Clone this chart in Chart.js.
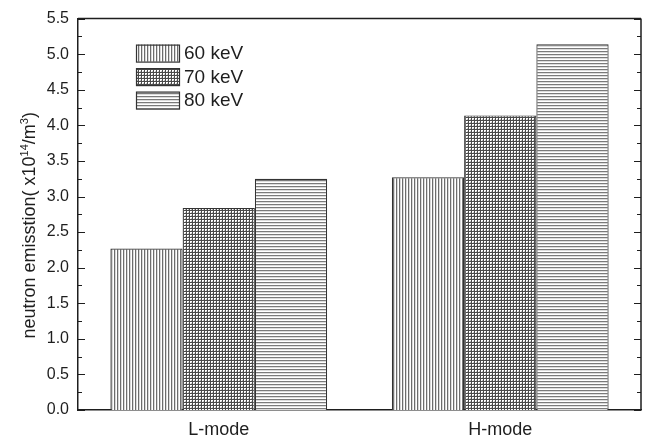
<!DOCTYPE html>
<html>
<head>
<meta charset="utf-8">
<script src="https://cdn.jsdelivr.net/npm/chart.js@4.4.1/dist/chart.umd.min.js"></script>
<style>
  html, body { margin: 0; padding: 0; background: #ffffff; }
  #wrap { width: 648px; height: 440px; }
</style>
</head>
<body>
<div id="wrap"><canvas id="c" width="648" height="440"></canvas></div>
<script>
// Plasma confinement modes on the x axis
const modes = ['L-mode', 'H-mode'];
// Beam energies (one series each)
const beamEnergies = ['60 keV', '70 keV', '80 keV'];
// Neutron emission, units of 10^14 per m^3
const emission60 = [2.27, 3.27];
const emission70 = [2.84, 4.14];
const emission80 = [3.25, 5.14];
// Y axis range and label step
const yMin = 0;
const yMax = 5.5;
const yStep = 0.5;

const FONT = '"Liberation Sans", Arial, Helvetica, sans-serif';
const INK = '#1e1e1e';

// Monochrome hatch fills
function makePattern(size, paint) {
  const c = document.createElement('canvas');
  c.width = size; c.height = size;
  const g = c.getContext('2d');
  g.fillStyle = '#ffffff';
  g.fillRect(0, 0, size, size);
  paint(g, size);
  return g.createPattern(c, 'repeat');
}
const ctx = document.getElementById('c').getContext('2d');
const vertical = makePattern(3, (g, s) => {
  g.fillStyle = '#6c6c6c'; g.fillRect(0, 0, 1, s);
  g.fillStyle = '#d8d8d8'; g.fillRect(1, 0, 1, s);
});
const crossHatch = makePattern(3, (g, s) => {
  g.fillStyle = '#4a4a4a';
  g.fillRect(0, 0, s, 1);
  g.fillRect(0, 0, 1, s);
  g.fillStyle = '#bdbdbd';
  g.fillRect(2, 2, 1, 1);
});
const horizontal = makePattern(3, (g, s) => {
  g.fillStyle = '#7a7a7a'; g.fillRect(0, 0, s, 1);
  g.fillStyle = '#dcdcdc'; g.fillRect(0, 1, s, 1);
});
const fills = [vertical, crossHatch, horizontal];
const seriesValues = [emission60, emission70, emission80];

// Frame, inward ticks, legend and rotated axis title
const decorations = {
  id: 'decorations',
  afterDraw(chart) {
    const { ctx, chartArea: a, scales } = chart;
    const y = scales.y;
    ctx.save();
    ctx.strokeStyle = INK;
    ctx.lineWidth = 1.5;
    ctx.beginPath();
    ctx.moveTo(a.left, a.top); ctx.lineTo(a.right, a.top);
    ctx.moveTo(a.right, a.top); ctx.lineTo(a.right, a.bottom);
    ctx.stroke();

    ctx.lineWidth = 1.2;
    ctx.beginPath();
    const n = Math.round((yMax - yMin) / (yStep / 2));
    for (let i = 0; i <= n; i++) {
      const v = yMin + i * yStep / 2;
      const py = Math.round(y.getPixelForValue(v)) + 0.5;
      const len = (i % 2 === 0) ? 7 : 4;
      ctx.moveTo(a.left, py); ctx.lineTo(a.left + len, py);
      ctx.moveTo(a.right, py); ctx.lineTo(a.right - len, py);
    }
    ctx.stroke();

    // legend
    const bx = a.left + 58, bw = 43, bh = 17, rowGap = 23.5;
    let by = a.top + 26;
    ctx.font = '19px ' + FONT;
    ctx.textBaseline = 'middle';
    ctx.textAlign = 'left';
    chart.data.datasets.forEach((ds, i) => {
      const top = by + i * rowGap;
      ctx.fillStyle = ds.backgroundColor;
      ctx.fillRect(bx, top, bw, bh);
      ctx.strokeStyle = '#333333';
      ctx.lineWidth = 1.2;
      ctx.strokeRect(bx + 0.5, top + 0.5, bw, bh);
      ctx.fillStyle = INK;
      ctx.fillText(ds.label, bx + bw + 5, top + bh / 2 + 1);
    });

    // y axis title with superscripts
    const parts = [
      ['neutron emisstion( x10', false],
      ['14', true],
      ['/m', false],
      ['3', true],
      [')', false]
    ];
    const big = '18px ' + FONT, small = '11px ' + FONT;
    let total = 0;
    parts.forEach(([t, sup]) => { ctx.font = sup ? small : big; total += ctx.measureText(t).width; });
    ctx.translate(29, (a.top + a.bottom) / 2 + 11);
    ctx.rotate(-Math.PI / 2);
    let x = -total / 2;
    ctx.fillStyle = INK;
    ctx.textBaseline = 'alphabetic';
    parts.forEach(([t, sup]) => {
      ctx.font = sup ? small : big;
      ctx.fillText(t, x, sup ? -1 : 6);
      x += ctx.measureText(t).width;
    });
    ctx.restore();
  }
};

new Chart(ctx, {
  type: 'bar',
  data: {
    labels: modes,
    datasets: beamEnergies.map((label, i) => ({
      label,
      data: seriesValues[i],
      backgroundColor: fills[i],
      borderColor: '#333333',
      borderWidth: 1.2,
      borderSkipped: 'bottom',
      categoryPercentage: 0.77,
      barPercentage: 1.0
    }))
  },
  options: {
    responsive: false,
    devicePixelRatio: 1,
    animation: false,
    layout: { padding: { top: 15, right: 7, bottom: 0, left: 0 } },
    plugins: { legend: { display: false }, tooltip: { enabled: false } },
    scales: {
      x: {
        grid: { display: false, drawTicks: false },
        border: { display: true, color: INK, width: 1.5 },
        ticks: { color: INK, font: { family: FONT, size: 18 }, padding: 9 },
        afterFit(s) { s.height = 30; }
      },
      y: {
        min: yMin,
        max: yMax,
        grid: { display: false, drawTicks: false },
        border: { display: true, color: INK, width: 1.5 },
        ticks: {
          stepSize: yStep,
          color: INK,
          padding: 9,
          font: { family: FONT, size: 16 },
          callback: v => Number(v).toFixed(1)
        },
        afterFit(s) { s.width = 78; }
      }
    }
  },
  plugins: [decorations]
});
</script>
</body>
</html>
